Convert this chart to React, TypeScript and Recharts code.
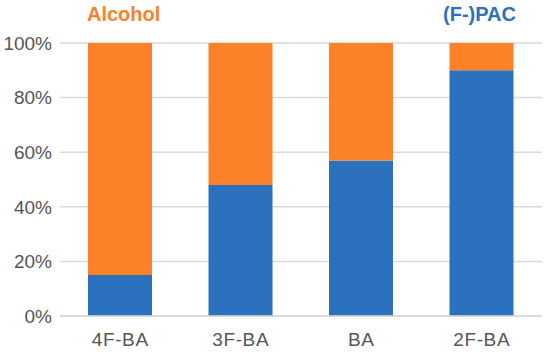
import { BarChart, Bar, XAxis, YAxis, CartesianGrid } from 'recharts';

const categories = ['4F-BA', '3F-BA', 'BA', '2F-BA'];
const pacShare = [15, 48, 57, 90];
const alcoholShare = [85, 52, 43, 10];
const yTicks = [0, 20, 40, 60, 80, 100];

const BLUE = '#2B71BD';
const ORANGE = '#FC8128';

const data = categories.map((c, i) => ({ name: c, pac: pacShare[i], alcohol: alcoholShare[i] }));

const font = 'Helvetica, "Liberation Sans", Arial, sans-serif';

const App = () => {
  return (
    <div style={{ position: 'absolute', left: 0, top: 0, width: 550, height: 356, fontFamily: font }}>
      <BarChart
        width={550}
        height={356}
        data={data}
        margin={{ top: 43, right: 8, left: 0, bottom: 0 }}
        barSize={64}
      >
        <CartesianGrid vertical={false} stroke="#d9d9d9" strokeWidth={1.5} />
        <XAxis
          dataKey="name"
          height={40}
          axisLine={{ stroke: '#d9d9d9', strokeWidth: 1.5 }}
          tickLine={false}
          tickMargin={11}
          tick={{ fontSize: 19, fill: '#555', fontFamily: font, letterSpacing: 0.6 }}
        />
        <YAxis
          width={60}
          domain={[0, 100]}
          ticks={yTicks}
          tickFormatter={(v) => `${v}%`}
          axisLine={false}
          tickLine={false}
          tick={{ fontSize: 19, fill: '#555', fontFamily: font }}
        />
        <Bar dataKey="pac" stackId="a" fill={BLUE} isAnimationActive={false} />
        <Bar dataKey="alcohol" stackId="a" fill={ORANGE} isAnimationActive={false} />
      </BarChart>
      <div style={{ position: 'absolute', left: 87, top: 3, fontSize: 20, fontWeight: 'bold', color: ORANGE }}>
        Alcohol
      </div>
      <div style={{ position: 'absolute', left: 443, top: 3, fontSize: 20, fontWeight: 'bold', color: BLUE }}>
        (F-)PAC
      </div>
    </div>
  );
};

export default App;
